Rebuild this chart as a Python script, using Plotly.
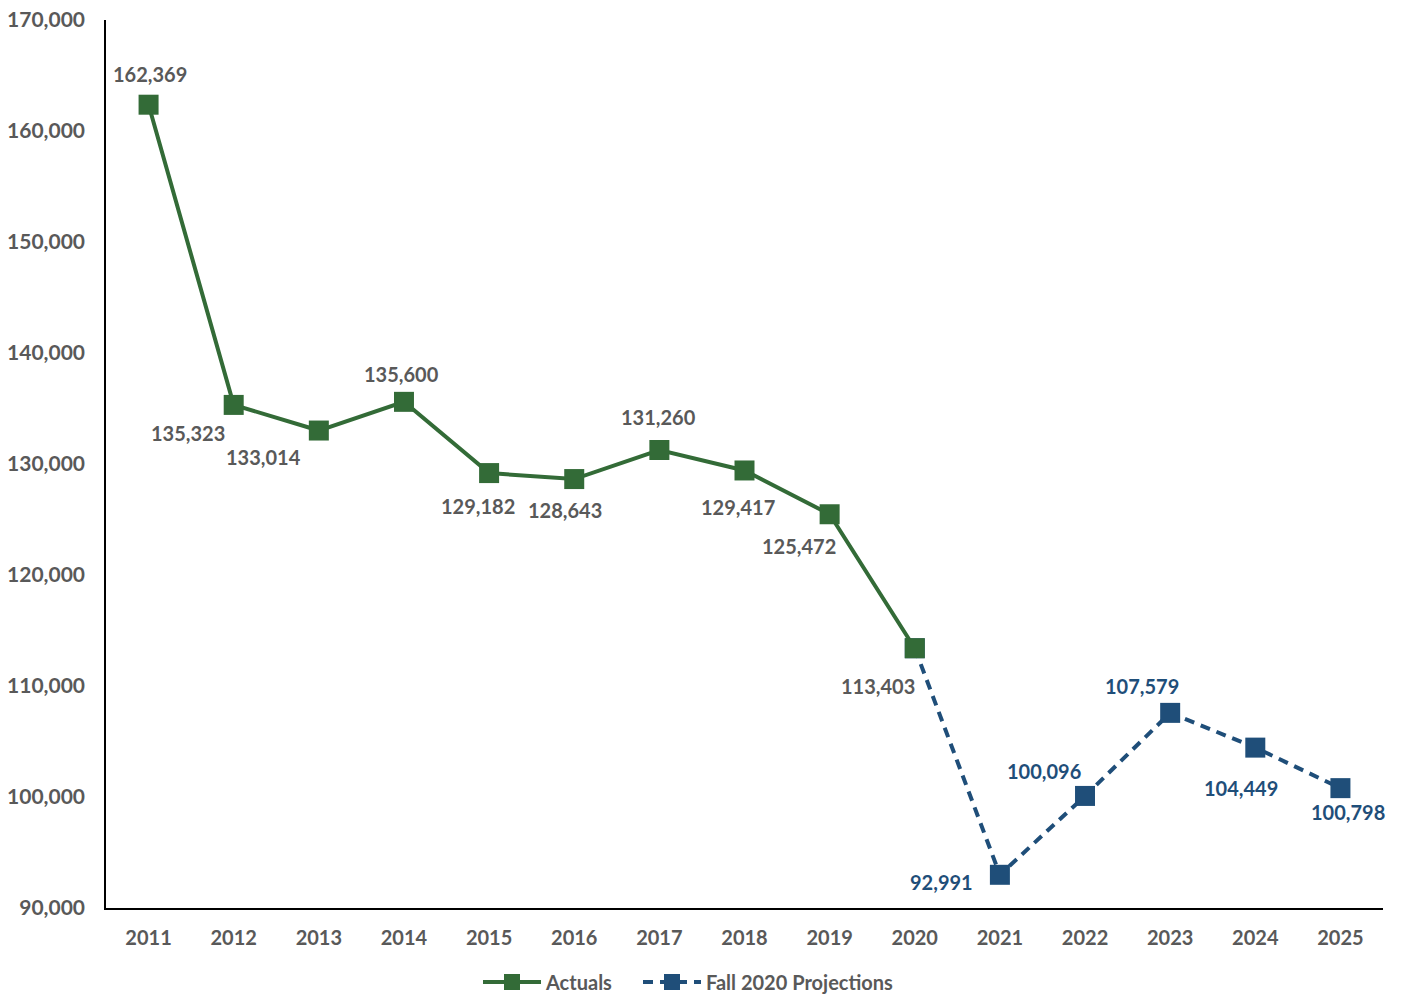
import plotly.graph_objects as go

years = list(range(2011, 2026))
actual_years = years[:10]
actual_values = [162369, 135323, 133014, 135600, 129182, 128643, 131260, 129417, 125472, 113403]
proj_years = years[9:]
proj_values = [113403, 92991, 100096, 107579, 104449, 100798]

# label offsets (pixels) from each marker centre
actual_dx = [1, -46, -55, -2, -11, -9, -1, -7, -31, -37]
actual_dy = [31, -28, -26, 28, -33, -31, 33, -37, -32, -38]
proj_dx = [0, -58, -41, -28, -14, 8]
proj_dy = [0, -7, 25, 27, -40, -24]

GREEN = "#336B37"
BLUE = "#1F4E79"
GRAY = "#595959"
FONT = "Lato"
LBL = 20
W, H = 1403, 994

def fmt(v):
    return f"{v:,}"

fig = go.Figure()

fig.add_trace(go.Scatter(
    x=proj_years, y=proj_values, name="Fall 2020 Projections",
    mode="lines+markers", legend="legend2",
    line=dict(color=BLUE, width=4, dash="10px,7px"),
    marker=dict(symbol="square", size=20, color=BLUE),
    cliponaxis=False,
))

fig.add_trace(go.Scatter(
    x=actual_years, y=actual_values, name="Actuals",
    mode="lines+markers", legend="legend",
    line=dict(color=GREEN, width=4),
    marker=dict(symbol="square", size=20, color=GREEN),
    cliponaxis=False,
))

for x, v, dx, dy in zip(actual_years, actual_values, actual_dx, actual_dy):
    fig.add_annotation(x=x, y=v, xref="x", yref="y", text=fmt(v), showarrow=False,
                       xanchor="center", yanchor="middle", xshift=dx, yshift=dy,
                       font=dict(family=FONT, size=LBL, color=GRAY, weight="bold"))
for x, v, dx, dy in list(zip(proj_years, proj_values, proj_dx, proj_dy))[1:]:
    fig.add_annotation(x=x, y=v, xref="x", yref="y", text=fmt(v), showarrow=False,
                       xanchor="center", yanchor="middle", xshift=dx, yshift=dy,
                       font=dict(family=FONT, size=LBL, color=BLUE, weight="bold"))

legend_style = dict(orientation="h", xref="container", yref="container", xanchor="left",
                    y=1 - 982 / H, yanchor="middle", itemwidth=58,
                    bgcolor="rgba(0,0,0,0)",
                    font=dict(family=FONT, size=LBL, color=GRAY, weight="bold"))

fig.update_layout(
    width=W, height=H,
    margin=dict(l=106, r=20, t=20, b=86, autoexpand=False),
    paper_bgcolor="white", plot_bgcolor="white",
    font=dict(family=FONT, size=LBL, color=GRAY, weight="bold"),
    showlegend=True,
    legend=dict(x=478 / W, **legend_style),
    legend2=dict(x=638 / W, **legend_style),
    xaxis=dict(type="linear", range=[2010.5, 2025.5], tickmode="array", tickvals=years,
               showgrid=False, zeroline=False, showline=True, linecolor="#000000",
               linewidth=1.5, ticks="", ticklabelstandoff=11, automargin=False,
               tickfont=dict(family=FONT, size=LBL, color=GRAY, weight="bold")),
    yaxis=dict(range=[90000, 170000], dtick=10000, tickformat=",", showgrid=False,
               zeroline=False, showline=True, linecolor="#000000", linewidth=1.5,
               ticks="", ticklabelstandoff=15, automargin=False,
               tickfont=dict(family=FONT, size=21, color=GRAY, weight="bold")),
)

fig.write_html("out.html")
